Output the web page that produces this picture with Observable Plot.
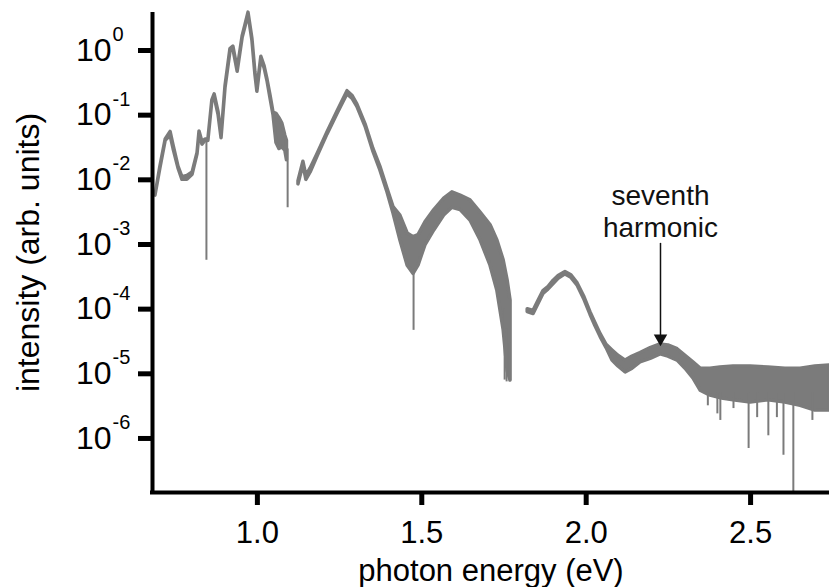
<!DOCTYPE html>
<html><head><meta charset="utf-8">
<script src="https://cdn.jsdelivr.net/npm/d3@7"></script>
<script src="https://cdn.jsdelivr.net/npm/@observablehq/plot@0.6"></script>
<style>body{margin:0;background:#fff;} #chart{width:829px;height:587px;}</style>
</head><body><div id="chart"></div>
<script>
// ---- data (photon energy in eV, intensity in arb. units; low/high edges of the noisy trace) ----
const seg1Energy = [0.690,0.705,0.721,0.736,0.745,0.760,0.772,0.787,0.803,0.818,0.824,0.833,0.842,0.851,0.863,0.870,0.882,0.891,0.903,0.918,0.927,0.940,0.955,0.964,0.973,0.985,0.994,1.000,1.012,1.022,1.031,1.040,1.049,1.058,1.067,1.076,1.085,1.090];
const seg1Low    = [5.7e-3,1.5e-2,4.0e-2,4.8e-2,3.0e-2,1.5e-2,1.0e-2,1.0e-2,1.2e-2,2.5e-2,5.2e-2,3.5e-2,4.0e-2,4.0e-2,0.165,0.19,0.10,0.044,0.26,0.95,1.05,0.47,1.55,2.35,3.6,1.4,0.42,0.23,0.75,0.53,0.33,0.18,0.10,0.037,0.030,0.032,0.028,0.020];
const seg1High   = [5.7e-3,1.6e-2,4.2e-2,5.5e-2,3.4e-2,1.6e-2,1.1e-2,1.15e-2,1.3e-2,2.6e-2,5.6e-2,3.8e-2,4.2e-2,4.2e-2,0.17,0.21,0.11,0.046,0.28,1.05,1.15,0.51,1.65,2.5,3.85,1.5,0.46,0.25,0.8,0.57,0.35,0.20,0.11,0.105,0.09,0.074,0.048,0.040];

const seg2Energy = [1.125,1.140,1.149,1.162,1.183,1.213,1.244,1.274,1.289,1.304,1.329,1.353,1.374,1.396,1.414,1.435,1.457,1.475,1.490,1.511,1.538,1.568,1.593,1.618,1.648,1.679,1.709,1.730,1.749,1.761,1.770];
const seg2Low    = [8.5e-3,1.7e-2,1.0e-2,1.3e-2,2.3e-2,5.0e-2,0.105,0.21,0.18,0.135,0.066,0.027,0.014,6.3e-3,3.0e-3,1.15e-3,4.7e-4,3.5e-4,4.7e-4,9.7e-4,1.65e-3,2.8e-3,3.7e-3,3.4e-3,2.35e-3,1.15e-3,4.7e-4,1.9e-4,4.7e-5,1.1e-5,7.9e-6];
const seg2High   = [9.5e-3,1.9e-2,1.15e-2,1.5e-2,2.5e-2,5.4e-2,0.115,0.235,0.20,0.147,0.072,0.030,0.016,7.2e-3,3.8e-3,2.8e-3,1.48e-3,1.3e-3,1.4e-3,2.2e-3,3.4e-3,5.1e-3,6.4e-3,5.7e-3,4.8e-3,3.1e-3,2.0e-3,1.15e-3,5.7e-4,2.8e-4,1.36e-4];

const seg3Energy = [1.822,1.840,1.855,1.870,1.885,1.901,1.916,1.937,1.955,1.974,1.995,2.013,2.028,2.044,2.062,2.080,2.098,2.120,2.141,2.165,2.196,2.226,2.250,2.278,2.302,2.326,2.348,2.378,2.408,2.448,2.500,2.554,2.606,2.652,2.697,2.740];
const seg3Low    = [9.0e-5,8.4e-5,1.2e-4,1.72e-4,2.0e-4,2.45e-4,2.95e-4,3.45e-4,3.05e-4,2.3e-4,1.38e-4,8.2e-5,5.5e-5,3.7e-5,2.5e-5,1.6e-5,1.3e-5,1.05e-5,1.2e-5,1.5e-5,1.7e-5,2.0e-5,1.85e-5,1.6e-5,1.2e-5,8.5e-6,5.5e-6,4.6e-6,4.2e-6,3.9e-6,3.6e-6,3.9e-6,3.6e-6,3.2e-6,2.7e-6,2.7e-6];
const seg3High   = [1.0e-4,9.4e-5,1.35e-4,1.9e-4,2.2e-4,2.75e-4,3.25e-4,3.75e-4,3.35e-4,2.5e-4,1.52e-4,9.0e-5,6.1e-5,4.1e-5,2.8e-5,2.3e-5,1.9e-5,1.6e-5,1.85e-5,2.1e-5,2.5e-5,2.85e-5,2.75e-5,2.4e-5,1.9e-5,1.5e-5,1.2e-5,1.2e-5,1.25e-5,1.3e-5,1.3e-5,1.25e-5,1.2e-5,1.2e-5,1.3e-5,1.35e-5];

// downward noise spikes: energy, lowest value reached, value where the spike leaves the trace
const spikeEnergy = [0.845,1.092,1.475,1.752,1.758,1.767,2.370,2.399,2.408,2.448,2.494,2.520,2.554,2.580,2.600,2.630,2.688];
const spikeBottom = [5.7e-4,3.7e-3,4.7e-5,8.0e-6,7.5e-6,7.5e-6,3.2e-6,2.4e-6,1.9e-6,2.9e-6,7.0e-7,2.1e-6,1.1e-6,2.1e-6,5.5e-7,1.5e-7,1.9e-6];
const spikeTop    = [3.8e-2,3.0e-2,4.0e-4,1.0e-4,5.0e-5,3.0e-5,5.0e-6,5.0e-6,5.0e-6,5.0e-6,5.0e-6,5.0e-6,5.0e-6,5.0e-6,5.0e-6,5.0e-6,5.0e-6];

// axes
const xTickValues = [1.0, 1.5, 2.0, 2.5];
const yTickValues = [1, 1e-1, 1e-2, 1e-3, 1e-4, 1e-5, 1e-6];
const yTickExponents = ["0", "-1", "-2", "-3", "-4", "-5", "-6"];
const xDomain = [0.681, 2.74];
const yDomain = [1.46e-7, 3.87];
const xTitle = "photon energy (eV)";
const yTitle = "intensity (arb. units)";

// annotation
const annotationText = "seventh\nharmonic";
const arrowEnergy = 2.226;
const arrowTop = 1.04e-3;
const arrowTip = 2.95e-5;

// ---- build tables ----
function rows(seg, e, lo, hi) { return e.map((x, i) => ({seg, x, lo: lo[i], hi: hi[i]})); }
const spectrum = [
  ...rows(1, seg1Energy, seg1Low, seg1High),
  ...rows(2, seg2Energy, seg2Low, seg2High),
  ...rows(3, seg3Energy, seg3Low, seg3High)
];
const spikes = spikeEnergy.map((x, i) => ({x, y1: spikeBottom[i], y2: spikeTop[i]}));

const gray = "#7b7b7b";
const font = "'Liberation Sans', Arial, Helvetica, sans-serif";

const chart = Plot.plot({
  width: 829, height: 587,
  marginTop: 12, marginBottom: 95, marginLeft: 152, marginRight: 0,
  style: {fontFamily: font, background: "white", overflow: "visible", color: "black"},
  x: {domain: xDomain},
  y: {type: "log", domain: yDomain},
  marks: [
    Plot.areaY(spectrum, {x: "x", y1: "lo", y2: "hi", z: "seg", fill: gray, stroke: gray, strokeWidth: 3.5, strokeLinejoin: "round"}),
    Plot.ruleX(spikes, {x: "x", y1: "y1", y2: "y2", stroke: gray, strokeWidth: 2}),
    Plot.ruleX([arrowEnergy], {y1: arrowTip, y2: arrowTop, stroke: "#111", strokeWidth: 1.5}),
    Plot.dot([arrowEnergy], {x: d => d, y: () => arrowTip, symbol: "triangle", rotate: 180, r: 5, fill: "#111", stroke: "none", dy: -5}),
    Plot.text([annotationText], {x: () => arrowEnergy, y: () => arrowTop, text: d => d, lineAnchor: "bottom", lineHeight: 1.15, dy: -6, fontSize: 28, fill: "#111"}),
    Plot.ruleY([yDomain[0]], {strokeWidth: 4, strokeLinecap: "square", stroke: "black"}),
    Plot.ruleX([xDomain[0]], {strokeWidth: 4, stroke: "black"}),
    Plot.axisX({ticks: xTickValues, tickFormat: d3.format(".1f"), tickSize: 13, tickPadding: 15, strokeWidth: 5, fontSize: 31, label: null}),
    Plot.axisY({ticks: yTickValues, tickFormat: () => "10", tickSize: 14, tickPadding: 27, strokeWidth: 5, fontSize: 32, label: null}),
    Plot.text(yTickValues, {y: d => d, frameAnchor: "left", text: (d, i) => yTickExponents[i], dx: -40, dy: -16, textAnchor: "start", fontSize: 20}),
    Plot.text([xTitle], {frameAnchor: "bottom", text: d => d, lineAnchor: "bottom", dy: 88, fontSize: 31}),
    Plot.text([yTitle], {frameAnchor: "left", text: d => d, rotate: -90, textAnchor: "middle", lineAnchor: "middle", dx: -124, fontSize: 32})
  ]
});
document.getElementById("chart").appendChild(chart);
</script>
</body></html>
